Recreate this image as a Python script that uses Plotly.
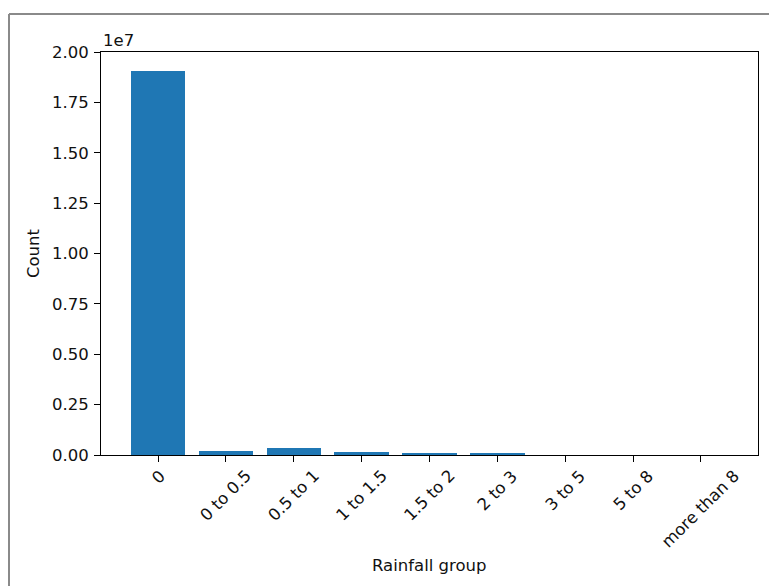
import plotly.graph_objects as go

categories = ["0", "0 to 0.5", "0.5 to 1", "1 to 1.5", "1.5 to 2", "2 to 3", "3 to 5", "5 to 8", "more than 8"]
counts = [19080000, 220000, 330000, 160000, 80000, 80000, 90, 60, 40]
ytick_vals = [0, 2.5e6, 5e6, 7.5e6, 1e7, 1.25e7, 1.5e7, 1.75e7, 2e7]
ytick_text = ["0.00", "0.25", "0.50", "0.75", "1.00", "1.25", "1.50", "1.75", "2.00"]

W, H = 769, 586
L, R, T, B = 101, 758, 52, 455

def px_x(p):
    return (p - L) / (R - L)

def px_y(p):
    return (B - p) / (B - T)

fig = go.Figure(go.Bar(
    x=list(range(len(categories))), y=counts, width=0.8,
    marker=dict(color="#1f77b4", line=dict(width=0)),
))

font = dict(family="DejaVu Sans", size=16.5, color="#111111")

annotations = [dict(text="1e7", xref="paper", yref="paper", x=0, y=1.0, xanchor="left", yanchor="bottom",
                    showarrow=False, font=font, yshift=0)]
# rotated, centred tick labels (matplotlib style)
for i, c in enumerate(categories):
    annotations.append(dict(text=c, xref="x", yref="y", x=i, y=0, xanchor="center", yanchor="top",
                            textangle=-45, showarrow=False, font=font, yshift=-10,
                            borderpad=0))
annotations.append(dict(text="Rainfall group", xref="paper", yref="paper", x=0.5, y=px_y(565),
                        xanchor="center", yanchor="middle", showarrow=False, font=font))

fig.update_layout(
    width=W, height=H,
    margin=dict(l=L, r=W - R, t=T, b=H - B),
    paper_bgcolor="white", plot_bgcolor="white",
    font=font, showlegend=False, bargap=0, hovermode=False,
    xaxis=dict(
        range=[-0.84, 8.84], tickvals=list(range(len(categories))), showticklabels=False,
        ticks="outside", ticklen=6, tickcolor="black", tickwidth=1,
        showgrid=False, zeroline=False, showline=True, linecolor="black", linewidth=1, mirror=True,
    ),
    yaxis=dict(
        range=[0, 2e7], tickvals=ytick_vals, ticktext=ytick_text,
        ticks="outside", ticklen=6, tickcolor="black", tickwidth=1, ticklabelstandoff=2,
        showgrid=False, zeroline=False, showline=True, linecolor="black", linewidth=1, mirror=True,
        title=dict(text="Count", font=font, standoff=8),
    ),
    annotations=annotations,
    shapes=[
        dict(type="line", xref="paper", yref="paper", x0=px_x(9), x1=px_x(W + 10), y0=px_y(14), y1=px_y(14),
             line=dict(color="#8a8a8a", width=2)),
        dict(type="line", xref="paper", yref="paper", x0=px_x(9), x1=px_x(9), y0=px_y(14), y1=px_y(H + 10),
             line=dict(color="#8a8a8a", width=2)),
    ],
)

fig.write_html("out.html", config={"displayModeBar": False},
               post_script="document.body.style.margin='0';document.body.style.overflow='hidden';")
